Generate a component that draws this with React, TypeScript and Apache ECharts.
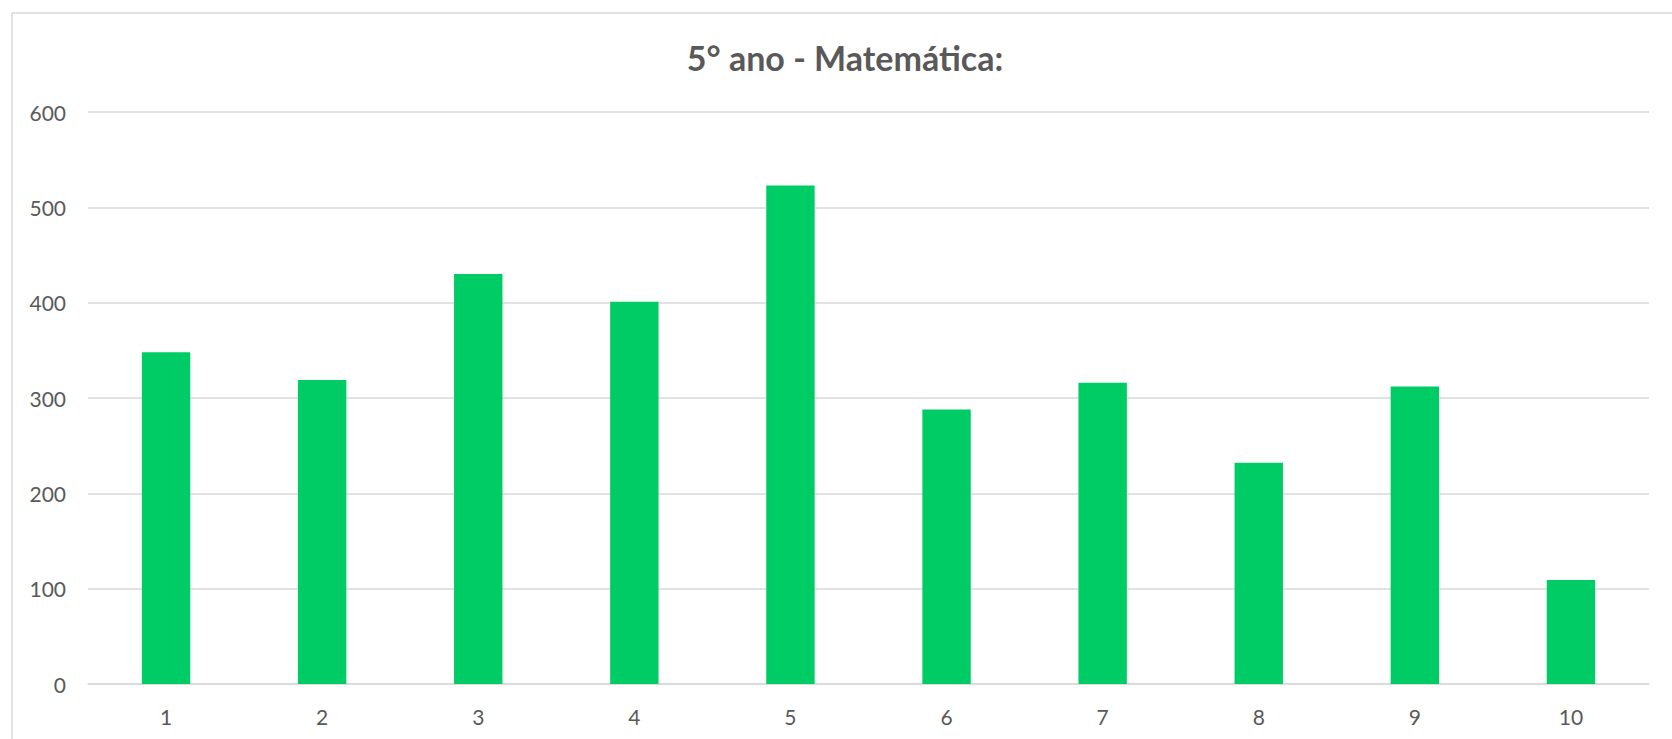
import React, { useEffect, useRef } from "react";
import * as echarts from "echarts";

const categories = ["1", "2", "3", "4", "5", "6", "7", "8", "9", "10"];
const values = [348, 319, 430, 401, 523, 288, 316, 232, 312, 109];
const titleText = "5° ano - Matemática:";

export default function App() {
  const ref = useRef<HTMLDivElement>(null);
  useEffect(() => {
    if (!ref.current) return;
    const chart = echarts.init(ref.current, null, { renderer: "svg" });
    chart.setOption({
      animation: false,
      backgroundColor: "#ffffff",
      graphic: [
        {
          type: "rect",
          shape: { x: 12, y: 13, width: 1720, height: 800 },
          style: { fill: "none", stroke: "#d9d9d9", lineWidth: 1.5 },
          silent: true,
        },
        {
          type: "text",
          x: 845,
          y: 57,
          style: {
            text: titleText,
            fill: "#595959",
            font: "bold 34px Lato",
            textAlign: "center",
            textVerticalAlign: "middle",
          },
        },
      ],
      grid: { left: 88, right: 23, top: 112, bottom: 55 },
      xAxis: {
        type: "category",
        data: categories,
        axisLine: { show: true, lineStyle: { color: "#d9d9d9", width: 1.5 } },
        axisTick: { show: false },
        axisLabel: { color: "#595959", fontFamily: "Lato", fontSize: 21, margin: 22 },
      },
      yAxis: {
        type: "value",
        min: 0,
        max: 600,
        interval: 100,
        axisLine: { show: false },
        axisTick: { show: false },
        splitLine: { lineStyle: { color: "#d9d9d9", width: 1.5 } },
        axisLabel: { color: "#595959", fontFamily: "Lato", fontSize: 21, margin: 22 },
      },
      series: [
        {
          type: "bar",
          data: values,
          barWidth: "31%",
          itemStyle: { color: "#00cc66" },
        },
      ],
    });
    return () => chart.dispose();
  }, []);
  return (
    <div style={{ position: "fixed", left: 0, top: 0, width: 1672, height: 739 }}>
      <div ref={ref} style={{ width: 1672, height: 739 }} />
    </div>
  );
}
